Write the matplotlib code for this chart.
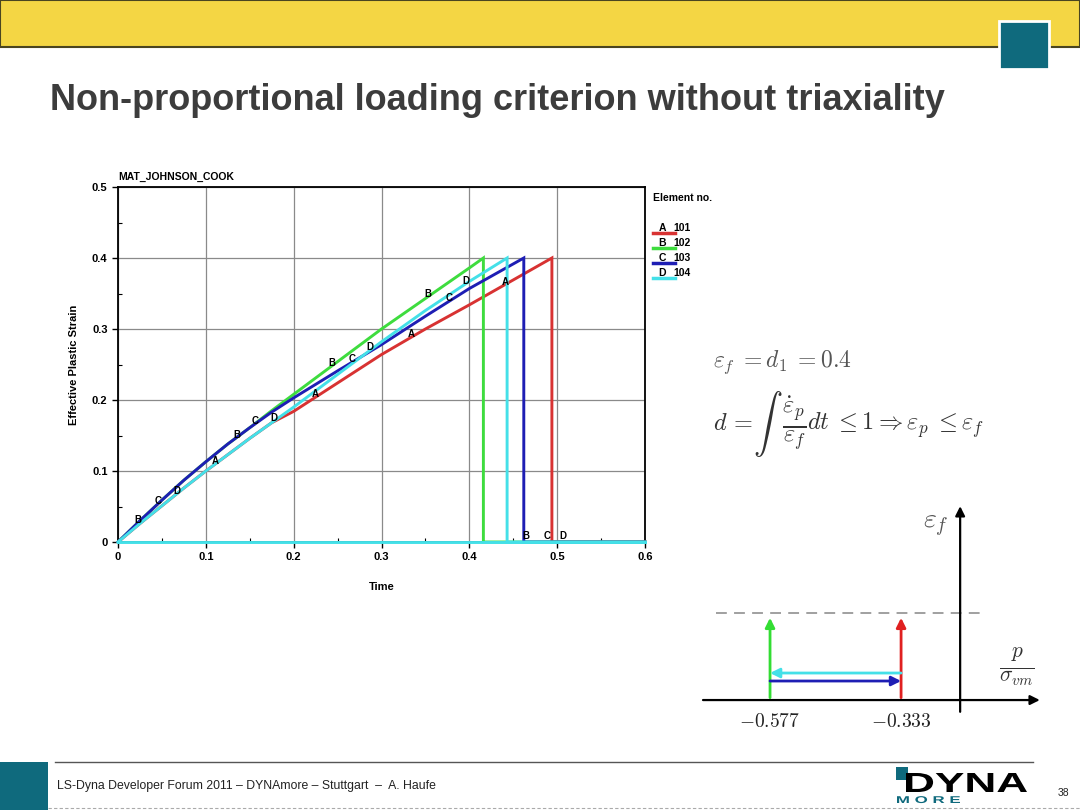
import numpy as np
import matplotlib.pyplot as plt
import matplotlib.transforms as mtransforms
from matplotlib.patches import Rectangle, PathPatch
from matplotlib.textpath import TextPath
from matplotlib.font_manager import FontProperties

plt.rcParams['font.family'] = ['Liberation Sans', 'DejaVu Sans']
plt.rcParams['mathtext.fontset'] = 'cm'

# effective plastic strain vs time, elements 101..104
t_load = [0, 0.025, 0.05, 0.075, 0.1, 0.125, 0.15, 0.175, 0.2, 0.25, 0.3, 0.35, 0.4]
eps_101 = [0, 0.026, 0.051, 0.076, 0.100, 0.123, 0.146, 0.168, 0.184, 0.224, 0.264, 0.300, 0.334]
eps_102 = [0, 0.030, 0.059, 0.087, 0.113, 0.138, 0.161, 0.185, 0.208, 0.254, 0.300, 0.343, 0.386]
eps_103 = [0, 0.030, 0.059, 0.087, 0.113, 0.138, 0.161, 0.183, 0.203, 0.241, 0.278, 0.318, 0.357]
eps_104 = [0, 0.026, 0.051, 0.076, 0.100, 0.123, 0.146, 0.168, 0.190, 0.236, 0.282, 0.326, 0.367]
t_fail = {'101': 0.494, '102': 0.416, '103': 0.462, '104': 0.443}
eps_fail = 0.4
t_end = 0.6

elements = ['101', '102', '103', '104']
letters = ['A', 'B', 'C', 'D']
colors = ['#d83232', '#3edc3e', '#1e1eb4', '#44e0e8']
curves = [eps_101, eps_102, eps_103, eps_104]
# where the letter tags sit on each curve
tag_t = [[0.111, 0.225, 0.334, 0.441],
         [0.023, 0.135, 0.244, 0.353],
         [0.046, 0.156, 0.267, 0.377],
         [0.067, 0.178, 0.287, 0.396]]
tag_zero = {'B': 0.464, 'C': 0.488, 'D': 0.507}

# right hand schematic
triax = [-0.577, -0.333]
triax_labels = ['$-0.577$', '$-0.333$']

fig = plt.figure(figsize=(10.8, 8.1), dpi=100)
renderer = fig.canvas.get_renderer()

# slide background in pixel coords
bg = fig.add_axes([0, 0, 1, 1])
bg.set_xlim(0, 1080)
bg.set_ylim(810, 0)
bg.axis('off')
bg.add_patch(Rectangle((0, 0), 1080, 47, facecolor='#f4d644', edgecolor='#4a4520', lw=1.5))
bg.add_patch(Rectangle((999, 21), 50, 48, facecolor='#0f6a7d', edgecolor='white', lw=2))
bg.text(50, 101, 'Non-proportional loading criterion without triaxiality', fontsize=26,
        fontweight='bold', color='#3c3c3c', va='center', ha='left')


def stretched_text(s, x0, x1, ybase, cap, color):
    # logo lettering squeezed/stretched into a box
    tp = TextPath((0, 0), s, size=1, prop=FontProperties(family='Liberation Sans', weight='bold'))
    bb = tp.get_extents()
    tr = mtransforms.Affine2D().translate(-bb.x0, 0).scale((x1 - x0) / bb.width, -cap / bb.height)
    tr = tr.translate(x0, ybase) + bg.transData
    bg.add_patch(PathPatch(tp, transform=tr, facecolor=color, edgecolor='none'))


# footer
bg.plot([55, 1033], [762, 762], color='#555555', lw=1)
bg.add_patch(Rectangle((0, 762), 48, 48, facecolor='#0f6a7d', edgecolor='none'))
bg.text(57, 786, 'LS-Dyna Developer Forum 2011 \u2013 DYNAmore \u2013 Stuttgart  \u2013  A. Haufe',
        fontsize=8.8, color='#222222', va='center')
bg.plot([48, 1080], [808, 808], color='#aaaaaa', lw=0.8, ls=(0, (3, 2)))
bg.add_patch(Rectangle((896, 767), 12, 13, facecolor='#0f6a7d', edgecolor='none'))
stretched_text('DYNA', 906, 1027, 792, 19, 'black')
stretched_text('M O R E', 897, 960, 803, 7, '#0f6a7d')
bg.text(1063, 793, '38', fontsize=7.5, color='#222222', va='center', ha='center')

# formulas
bg.text(713, 362, r'$\varepsilon_f\; = d_1\; = 0.4$', fontsize=17, color='#555555', va='center')
pieces = [(r'$d\, =\,$', 17.5, 'baseline', 430),
          (r'$\int$', 21, 'center', 424),
          (r'$\frac{\dot{\varepsilon}_p}{\varepsilon_f}$', 25, 'center', 424),
          (r'$dt\; \leq 1 \Rightarrow \varepsilon_p\; \leq \varepsilon_f$', 17.5, 'baseline', 430)]
xcur = 713
for s, fs, va, yy in pieces:
    t = bg.text(xcur, yy, s, fontsize=fs, color='#333333', va=va, ha='left')
    ext = t.get_window_extent(renderer)
    xcur += ext.width

# legend of the LS-PrePost plot
bg.text(653, 198, 'Element no.', fontsize=7.5, fontweight='bold', va='center')
for i in range(4):
    y = 228 + 15 * i
    bg.plot([653, 675], [y + 5, y + 5], color=colors[i], lw=2.5)
    bg.text(662, y, letters[i], fontsize=7.5, fontweight='bold', ha='center', va='center')
    bg.text(673, y, elements[i], fontsize=7.5, fontweight='bold', ha='left', va='center')

# main plot
ax = fig.add_axes([118 / 1080, 1 - 542 / 810, 527 / 1080, 355 / 810])
for i in range(4):
    tt = t_load + [t_fail[elements[i]], t_fail[elements[i]], t_end]
    ee = curves[i] + [eps_fail, 0, 0]
    ax.plot(tt, ee, color=colors[i], lw=2.1, solid_joinstyle='miter', clip_on=False, zorder=3)
    for tv in tag_t[i]:
        ax.text(tv, np.interp(tv, tt[:-2], ee[:-2]) + 0.004, letters[i], fontsize=7,
                fontweight='bold', ha='center', va='center', zorder=4)
# element 104 sits on top along the zero line
ax.axhline(0, color=colors[3], lw=2.1, zorder=3.5, clip_on=False)
for k, tv in tag_zero.items():
    ax.text(tv, 0.008, k, fontsize=7, fontweight='bold', ha='center', va='center', zorder=4)

ax.set_xlim(0, 0.6)
ax.set_ylim(0, 0.5)
ax.set_xticks(np.arange(0, 0.61, 0.1))
ax.set_yticks(np.arange(0, 0.51, 0.1))
ax.set_xticks(np.arange(0, 0.61, 0.05), minor=True)
ax.set_yticks(np.arange(0, 0.51, 0.05), minor=True)
ax.set_xticklabels(['0', '0.1', '0.2', '0.3', '0.4', '0.5', '0.6'])
ax.set_yticklabels(['0', '0.1', '0.2', '0.3', '0.4', '0.5'])
ax.tick_params(which='major', direction='out', length=4, labelsize=8, width=1)
ax.tick_params(which='minor', direction='in', length=3, width=0.8)
for lab in ax.get_xticklabels() + ax.get_yticklabels():
    lab.set_fontweight('bold')
ax.grid(which='major', color='#8a8a8a', lw=0.9)
for s in ax.spines.values():
    s.set_linewidth(1.3)
ax.set_xlabel('Time', fontsize=8, fontweight='bold', labelpad=14)
ax.set_ylabel('Effective Plastic Strain', fontsize=8, fontweight='bold', labelpad=9)
ax.text(0, 1.028, 'MAT_JOHNSON_COOK', transform=ax.transAxes, fontsize=7.5,
        fontweight='bold', va='center', ha='left')

# schematic: failure strain vs triaxiality
dax = fig.add_axes([700 / 1080, 1 - 740 / 810, 345 / 1080, 235 / 810])
dax.set_xlim(-0.7074, -0.065)
dax.set_ylim(0, 1)
dax.axis('off')
x_axis_y = 0.17
y_axis_x = -0.223
arrow = dict(arrowstyle='-|>', lw=1.6, mutation_scale=14, shrinkA=0, shrinkB=0)
dax.annotate('', xy=(-0.0747, x_axis_y), xytext=(-0.7018, x_axis_y), arrowprops=dict(arrow, color='black'))
dax.annotate('', xy=(y_axis_x, 0.995), xytext=(y_axis_x, 0.12), arrowprops=dict(arrow, color='black'))
dax.plot([-0.677, -0.18], [0.54, 0.54], color='#999999', lw=1.3, ls=(0, (6, 4)))
dax.annotate('', xy=(triax[0], 0.52), xytext=(triax[0], 0.18), arrowprops=dict(arrow, color='#33dd33', lw=2))
dax.annotate('', xy=(triax[1], 0.52), xytext=(triax[1], 0.18), arrowprops=dict(arrow, color='#e02020', lw=2))
dax.annotate('', xy=(triax[0], 0.285), xytext=(triax[1], 0.285), arrowprops=dict(arrow, color='#44e0e8', lw=2))
dax.annotate('', xy=(triax[1], 0.251), xytext=(triax[0], 0.251), arrowprops=dict(arrow, color='#1e1eb4', lw=2))
for xv, lab in zip(triax, triax_labels):
    dax.text(xv, 0.075, lab, fontsize=14, ha='center', va='center', color='#222222')
dax.text(-0.268, 0.91, r'$\varepsilon_f$', fontsize=20, ha='center', va='center', color='#555555')
dax.text(-0.117, 0.31, r'$\frac{p}{\sigma_{vm}}$', fontsize=22, ha='center', va='center', color='#333333')

fig.savefig('out.png', dpi=100)
